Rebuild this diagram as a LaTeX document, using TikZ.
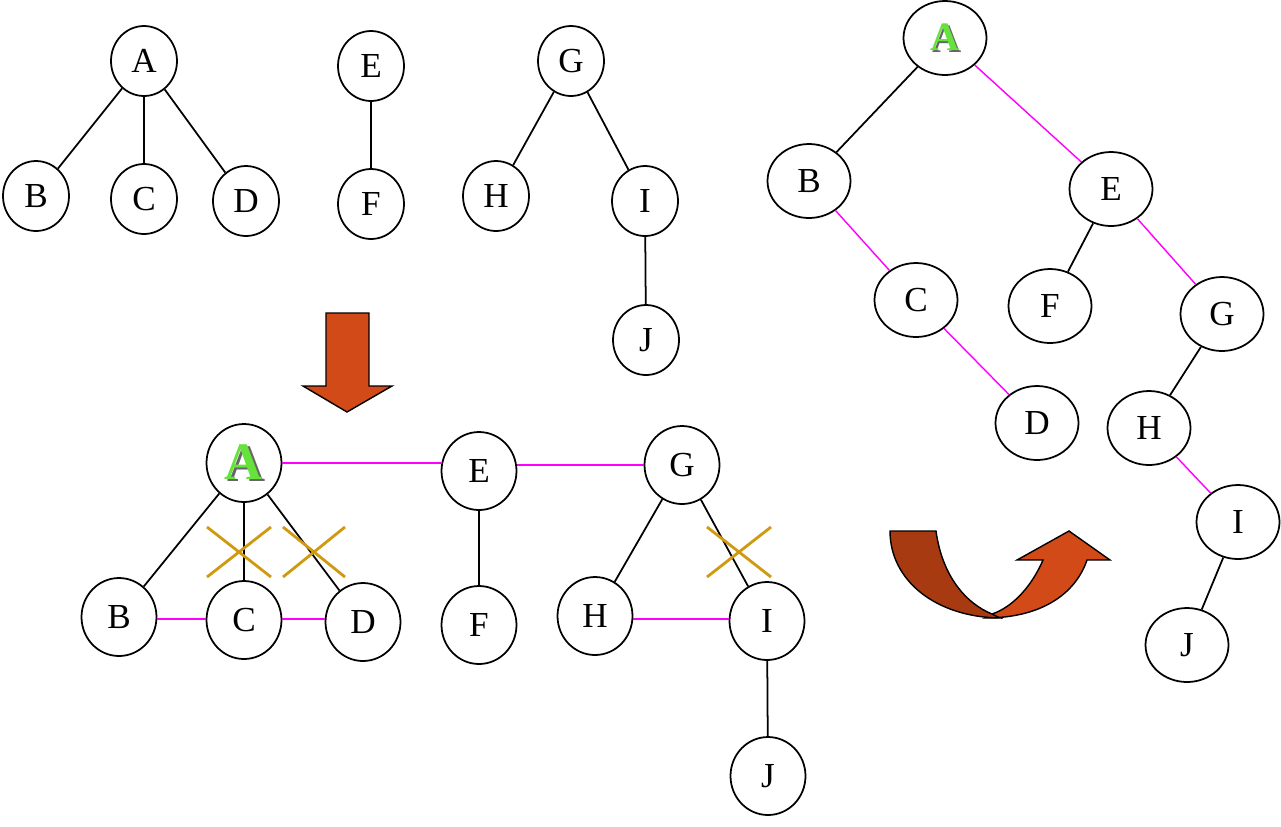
\documentclass[tikz,border=0pt]{standalone}
\usepackage{fontspec}
\setmainfont{Liberation Serif}
\usepackage{tikz}
\usetikzlibrary{shapes.geometric}
\definecolor{arrowred}{HTML}{D24A18}
\definecolor{arrowdark}{HTML}{A83A12}
\definecolor{crossgold}{HTML}{D09A10}
\definecolor{brightgreen}{HTML}{66E23C}
\definecolor{linkmag}{HTML}{FF00FF}
\newcommand{\greenA}[1]{{\fontsize{#1}{#1}\selectfont\bfseries\makebox[0pt][l]{\hspace{0.04em}\raisebox{-0.04em}{\color{black!60}A}}\color{brightgreen}A}}
\tikzset{
	tnode/.style={draw, ellipse, line width=1pt, minimum width=1.32cm, minimum height=1.4cm, inner sep=0pt, font=\fontsize{20}{24}\selectfont},
	bnode/.style={tnode, minimum width=1.5cm, minimum height=1.56cm},
	rnode/.style={tnode, minimum width=1.66cm, minimum height=1.48cm},
	blk/.style={line width=1pt},
	mag/.style={linkmag, line width=0.8pt},
	cross/.style={crossgold, line width=1.6pt}
}

\begin{document}
\begin{tikzpicture}[x=0.02cm,y=-0.02cm]
			\useasboundingbox (0,0) rectangle (1281,826);
			% forest
			\node[tnode] (a1) at (144,61) {A};
			\node[tnode] (b1) at (36,196) {B};
			\node[tnode] (c1) at (144,199) {C};
			\node[tnode] (d1) at (246,201) {D};
			\node[tnode] (e1) at (371,66) {E};
			\node[tnode] (f1) at (371,204) {F};
			\node[tnode] (g1) at (571,61) {G};
			\node[tnode] (h1) at (496,196) {H};
			\node[tnode] (i1) at (645,201) {I};
			\node[tnode] (j1) at (646,340) {J};
			\draw[blk] (a1) -- (b1);
			\draw[blk] (a1) -- (c1);
			\draw[blk] (a1) -- (d1);
			\draw[blk] (e1) -- (f1);
			\draw[blk] (g1) -- (h1);
			\draw[blk] (g1) -- (i1);
			\draw[blk] (i1) -- (j1);
			% down arrow
			\draw[fill=arrowred, line width=0.8pt] (326,313) -- (369,313) -- (369,386) -- (392,386)
				-- (347,412) -- (303,386) -- (326,386) -- cycle;
			% linked siblings
			\node[bnode] (a2) at (244,463) {\greenA{30}};
			\node[bnode] (b2) at (119,617) {B};
			\node[bnode] (c2) at (244,620) {C};
			\node[bnode] (d2) at (363,622) {D};
			\node[bnode] (e2) at (479,471) {E};
			\node[bnode] (f2) at (479,625) {F};
			\node[bnode] (g2) at (682,465) {G};
			\node[bnode] (h2) at (595,616) {H};
			\node[bnode] (i2) at (767,621) {I};
			\node[bnode] (j2) at (768,776) {J};
			\draw[blk] (a2) -- (b2);
			\draw[blk] (a2) -- (c2);
			\draw[blk] (a2) -- (d2);
			\draw[blk] (e2) -- (f2);
			\draw[blk] (g2) -- (h2);
			\draw[blk] (g2) -- (i2);
			\draw[blk] (i2) -- (j2);
			\draw[mag] (a2) -- (e2.west |- a2);
			\draw[mag] (e2.east |- g2) -- (g2);
			\draw[mag] (b2.east |- 0,619) -- (c2.west |- 0,619);
			\draw[mag] (c2.east |- 0,619) -- (d2.west |- 0,619);
			\draw[mag] (h2.east |- 0,619) -- (i2.west |- 0,619);
			% crosses
			\draw[cross] (207,527) -- (271,577) (271,527) -- (207,577);
			\draw[cross] (283,527) -- (345,577) (345,527) -- (283,577);
			\draw[cross] (707,527) -- (771,577) (771,527) -- (707,577);
			% turn arrow
			\draw[fill=arrowred, line width=0.8pt] (985,618) .. controls (1040,618) and (1075,595) .. (1087,560)
				-- (1110,560) -- (1069,531) -- (1017,560) -- (1043,560)
				.. controls (1030,590) and (1010,608) .. (992,614) -- cycle;
			\draw[fill=arrowdark, line width=0.8pt] (890,531) -- (936,531) .. controls (942,575) and (965,603) .. (992,614)
				-- (1000,618) .. controls (935,617) and (890,580) .. (890,531) -- cycle;
			% binary tree
			\node[rnode] (a3) at (945,38) {\greenA{23}};
			\node[rnode] (b3) at (809,181) {B};
			\node[rnode] (e3) at (1111,189) {E};
			\node[rnode] (c3) at (916,300) {C};
			\node[rnode] (f3) at (1050,306) {F};
			\node[rnode] (g3) at (1222,314) {G};
			\node[rnode] (d3) at (1037,423) {D};
			\node[rnode] (h3) at (1149,428) {H};
			\node[rnode] (i3) at (1238,522) {I};
			\node[rnode] (j3) at (1187,645) {J};
			\draw[blk] (a3) -- (b3);
			\draw[mag] (a3) -- (e3);
			\draw[mag] (b3) -- (c3);
			\draw[mag] (c3) -- (d3);
			\draw[blk] (e3) -- (f3);
			\draw[mag] (e3) -- (g3);
			\draw[blk] (g3) -- (h3);
			\draw[mag] (h3) -- (i3);
			\draw[blk] (i3) -- (j3);
		\end{tikzpicture}
\end{document}
